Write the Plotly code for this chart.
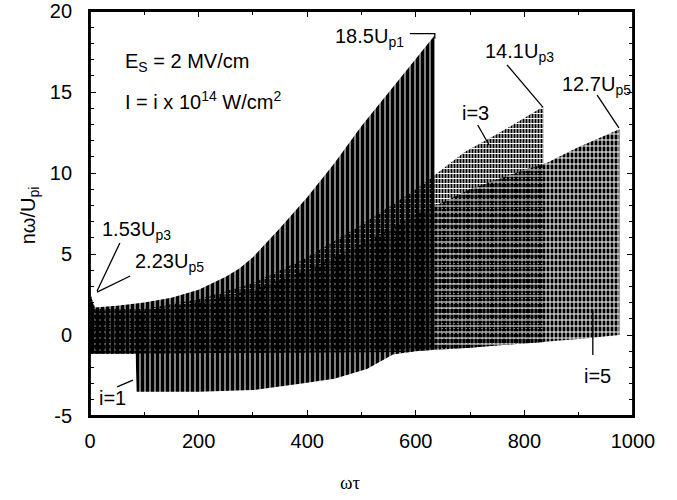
import plotly.graph_objects as go

# ---- envelope data (omega*tau, n*omega/U_pi) ----
i1_x_up = [0, 8, 50, 100, 150, 200, 250, 275, 300, 325, 350, 400, 450, 500, 550, 600, 635]
i1_up = [2.3, 1.7, 1.8, 2.0, 2.3, 2.8, 3.6, 4.1, 4.8, 5.7, 6.6, 8.5, 10.6, 12.9, 15.0, 17.1, 18.5]
i1_x_lo = [0, 84, 86, 200, 300, 390, 450, 510, 558, 600, 635]
i1_lo = [-1.15, -1.15, -3.5, -3.5, -3.4, -3.0, -2.7, -2.1, -1.2, -1.0, -0.9]

i3_x_up = [0, 10, 100, 200, 300, 400, 500, 600, 640, 690, 750, 810, 835]
i3_up = [2.6, 1.6, 1.6, 2.2, 3.2, 4.8, 6.8, 9.0, 10.0, 11.3, 12.4, 13.6, 14.1]
i3_x_lo = [0, 570, 630, 700, 755, 810, 835]
i3_lo = [-1.15, -1.05, -0.93, -0.78, -0.62, -0.5, -0.45]

i5_x_up = [0, 10, 100, 200, 300, 400, 500, 600, 700, 800, 840, 900, 975]
i5_up = [2.6, 1.5, 1.5, 2.0, 2.8, 4.0, 5.6, 7.4, 9.0, 10.2, 10.6, 11.6, 12.7]
i5_x_lo = [0, 570, 630, 700, 755, 810, 900, 975]
i5_lo = [-1.15, -1.05, -0.93, -0.78, -0.62, -0.5, -0.25, 0.0]

x_ticks = [0, 200, 400, 600, 800, 1000]
y_ticks = [-5, 0, 5, 10, 15, 20]

# labels: (text, x, y)  -- left edge / vertical middle
labels = [
    ("E<sub>S</sub> = 2 MV/cm", 61, 16.85),
    ("I = i x 10<sup>14</sup> W/cm<sup>2</sup>", 61, 14.5),
    ("18.5U<sub>p1</sub>", 447, 18.36),
    ("14.1U<sub>p3</sub>", 724, 17.44),
    ("12.7U<sub>p5</sub>", 866, 15.38),
    ("i=3", 681, 13.73),
    ("i=5", 906, -2.5),
    ("i=1", 13, -3.9),
    ("1.53U<sub>p3</sub>", 18, 6.48),
    ("2.23U<sub>p5</sub>", 79, 4.48),
]
# pointer lines: list of (x, y) vertices
pointers = [
    [(589, 18.6), (635, 18.6), (635, 18.3)],
    [(768, 16.67), (834, 14.07)],
    [(934, 14.81), (974, 12.78)],
    [(714, 12.96), (735, 11.73)],
    [(926, -1.23), (926, 1.5)],
    [(50, -3.2), (79, -2.78)],
    [(55, 5.68), (13, 2.72)],
    [(74, 3.64), (13, 2.65)],
]

FONT = "Liberation Sans, Arial, Helvetica, sans-serif"
FS = 20


def band(xu, yu, xl, yl):
    xs = list(xu) + list(reversed(xl))
    ys = list(yu) + list(reversed(yl))
    return xs + [xs[0]], ys + [ys[0]]


fig = go.Figure()

layers = [
    (i3_x_up, i3_up, i3_x_lo, i3_lo, dict(shape="|", size=3, solidity=0.67, fgcolor="black")),
    (i3_x_up, i3_up, i3_x_lo, i3_lo, dict(shape="-", size=5, solidity=0.2, fgcolor="white")),
    (i5_x_up, i5_up, i5_x_lo, i5_lo, dict(shape="|", size=4, solidity=0.75, fgcolor="black")),
    (i5_x_up, i5_up, i5_x_lo, i5_lo, dict(shape="-", size=6, solidity=0.17, fgcolor="white")),
    (i1_x_up, i1_up, i1_x_lo, i1_lo, dict(shape="|", size=5, solidity=0.8, fgcolor="black")),
]
for xu, yu, xl, yl, pat in layers:
    xs, ys = band(xu, yu, xl, yl)
    fig.add_trace(go.Scatter(
        x=xs, y=ys, mode="lines", fill="toself",
        line=dict(width=0, color="black"),
        fillcolor="rgba(0,0,0,0)",
        fillpattern=dict(fillmode="replace", **pat),
        hoverinfo="skip", showlegend=False,
    ))

for text, x, y in labels:
    fig.add_annotation(x=x, y=y, xref="x", yref="y", text=text, showarrow=False,
                       xanchor="left", yanchor="middle",
                       font=dict(family=FONT, size=FS, color="black"))

for pts in pointers:
    path = "M " + " L ".join(f"{px},{py}" for px, py in pts)
    fig.add_shape(type="path", path=path, xref="x", yref="y",
                  line=dict(color="black", width=1.3))

# frame
fig.add_shape(type="rect", xref="paper", yref="paper", x0=0, y0=0, x1=1, y1=1,
              line=dict(color="black", width=1.8), fillcolor="rgba(0,0,0,0)", layer="above")

fig.add_annotation(x=0.479, y=-0.165, xref="paper", yref="paper", text="ωτ",
                   showarrow=False, xanchor="center", yanchor="middle",
                   font=dict(family="Liberation Serif, Times New Roman, serif", size=19, color="black"))
fig.add_annotation(x=-0.112, y=0.496, xref="paper", yref="paper", text="nω/U<sub>pi</sub>",
                   showarrow=False, xanchor="center", yanchor="middle", textangle=-90,
                   font=dict(family=FONT, size=FS, color="black"))

axis_common = dict(
    showgrid=False, zeroline=False, showline=True, linecolor="black", linewidth=1.8,
    mirror="ticks", ticks="inside", ticklen=6, tickwidth=1.3, tickcolor="black",
    automargin=False,
    tickfont=dict(family=FONT, size=FS, color="black"),
)
fig.update_xaxes(range=[0, 1000], tickvals=x_ticks, ticktext=[str(v) for v in x_ticks],
                 minor=dict(dtick=100, ticks="inside", ticklen=4, tickcolor="black", tickwidth=1.3),
                 ticklabelstandoff=6, **axis_common)
fig.update_yaxes(range=[-5, 20], tickvals=y_ticks, ticktext=[str(v) for v in y_ticks],
                 minor=dict(dtick=1, ticks="inside", ticklen=4, tickcolor="black", tickwidth=1.3),
                 ticklabelstandoff=12, **axis_common)

fig.update_layout(
    template="none",
    width=677, height=500, autosize=False,
    margin=dict(l=90, r=44, t=11, b=84),
    paper_bgcolor="white", plot_bgcolor="white",
)

# remove the default 8px page margin so the figure fills the window exactly
fig.write_html("out.html", config={"displayModeBar": False},
               post_script="document.body.style.margin='0';document.body.style.overflow='hidden';")
